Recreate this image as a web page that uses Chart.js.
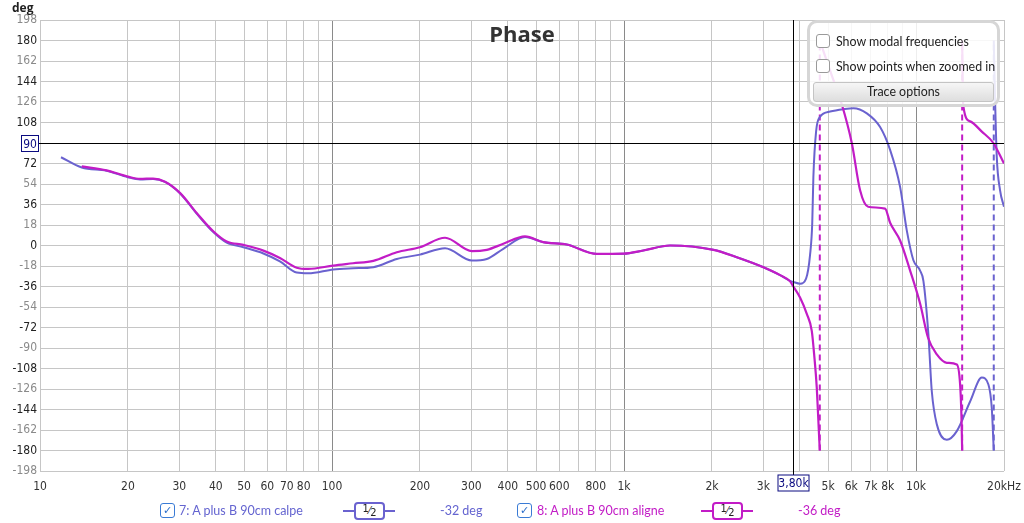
<!DOCTYPE html>
<html>
<head>
<meta charset="utf-8">
<title>Phase</title>
<script src="https://cdn.jsdelivr.net/npm/chart.js@4.4.1/dist/chart.umd.min.js"></script>
<style>
    html, body { margin: 0; padding: 0; background: #fff; }
    #wrap { position: relative; width: 1024px; height: 523px; overflow: hidden; }
    #phaseChart { position: absolute; left: 0; top: 0; }

    .opts {
        position: absolute; left: 807px; top: 20px; width: 187px; height: 81px;
        border: 3px solid #d6d6d6; border-radius: 10px;
        background: rgba(255, 255, 255, 0.86);
        font: 12.4px Lato, "Open Sans", sans-serif; color: #222;
    }
    .opts .cb {
        position: absolute; left: 6px; width: 12px; height: 12px;
        border: 1px solid #9a9a9a; border-radius: 3px; background: #fff;
    }
    .opts .lbl { position: absolute; left: 26px; line-height: 14px; white-space: nowrap; }
    .opts .btn {
        position: absolute; left: 3px; top: 59px; width: 179px; height: 18px;
        border: 1px solid #c4c4c4; border-radius: 3px;
        background: linear-gradient(#f6f6f6, #dedede);
        text-align: center; line-height: 18px;
    }

    .legend { position: absolute; top: 502px; height: 18px; font: 12.5px Lato, "Open Sans", sans-serif; white-space: nowrap; }
    .legend .tick {
        position: absolute; top: 1px; width: 13px; height: 13px;
        border: 1px solid #3a7bd5; border-radius: 3px; background: #fff;
        color: #2a6cc8; font: bold 11px "DejaVu Sans", sans-serif; line-height: 13px; text-align: center;
    }
    .legend .name, .legend .val { position: absolute; top: 0; line-height: 17px; }
    .legend .sym { position: absolute; top: 0; width: 52px; height: 18px; }
    .legend .sym .ln { position: absolute; left: 0; top: 8px; width: 52px; height: 2px; }
    .legend .sym .bx {
        position: absolute; left: 11px; top: 0; width: 27px; height: 14px;
        border: 2px solid; border-radius: 4px; background: #fff;
        color: #222; font: 11px "Liberation Sans Narrow", "DejaVu Sans Condensed", sans-serif;
        text-align: center; line-height: 14px;
    }
    .bx .n1 { position: relative; top: -2px; }
    .bx .n2 { position: relative; top: 2px; }
</style>
</head>
<body>
<div id="wrap">
    <canvas id="phaseChart" width="1024" height="523"></canvas>

    <div class="opts">
        <div class="cb" style="top:11px"></div>
        <div class="lbl" style="top:12px">Show modal frequencies</div>
        <div class="cb" style="top:36px"></div>
        <div class="lbl" style="top:37px">Show points when zoomed in</div>
        <div class="btn">Trace options</div>
    </div>

    <div class="legend" style="left:0; width:1024px">
        <div class="tick" style="left:160px">&#10003;</div>
        <div class="name" style="left:179px; color:#6464d0">7: A plus B 90cm calpe</div>
        <div class="sym" style="left:343px">
            <div class="ln" style="background:#6a62cf"></div>
            <div class="bx" style="border-color:#6a62cf"><span class="n1">1</span>&#8260;<span class="n2">2</span></div>
        </div>
        <div class="val" style="left:440px; color:#6464d0">-32 deg</div>

        <div class="tick" style="left:517px">&#10003;</div>
        <div class="name" style="left:537px; color:#c21cc6">8: A plus B 90cm aligne</div>
        <div class="sym" style="left:701px">
            <div class="ln" style="background:#c21cc6"></div>
            <div class="bx" style="border-color:#c21cc6"><span class="n1">1</span>&#8260;<span class="n2">2</span></div>
        </div>
        <div class="val" style="left:798px; color:#c21cc6">-36 deg</div>
    </div>
</div>

<script>
// trace 7 (blue), segment before the phase wrap, then after it
const blueFreq1 = [11.8, 13.9, 16.9, 20, 22, 24.4, 26.8, 30.2, 34.4, 39.2, 43.6, 49.7, 58.2, 66.3, 75.7, 82.9,
    101, 118, 138.5, 166.6, 200, 243.8, 300.9, 338.8, 386, 458, 529, 636, 806, 995, 1164, 1437, 2022, 2432,
    3000, 3421, 3703, 3800, 4005, 4200, 4335, 4410, 4449, 4545, 4690, 5077, 5636, 6100, 6782, 7530, 8147,
    8815, 9295, 9790, 10320, 10593, 11018, 11318, 11775, 12740, 13785, 15310, 16790, 17686, 18165, 18450];
const bluePhase1 = [77.5, 68.5, 65.6, 60, 58, 58.5, 55.8, 45.6, 28, 11.8, 2.5, -1.5, -7, -14, -23.8, -24.4,
    -21, -20, -19, -11.8, -8, -2.4, -13.2, -11.8, -2.9, 7.4, 2.9, 0.9, -7.4, -7.2, -4.4, 0, -3.8, -10.3,
    -19.1, -26, -31, -32, -33.5, -29, -8, 20, 60, 100, 113, 117.6, 119.7, 120.6, 116, 104, 84,
    51.5, 13, -13, -22, -31, -78, -128, -157, -170.6, -163, -137, -116, -122, -143, -180];
const blueFreq2 = [18450, 18640, 18890, 19390, 20000];
const bluePhase2 = [180, 128, 78, 48.5, 34];

// trace 8 (magenta), three segments split by two wraps
const magFreq1 = [13.9, 16.9, 20, 22, 24.4, 26.8, 30.2, 34.4, 39.2, 43.6, 49.7, 58.2, 66.3, 75.7, 82.9,
    101, 118, 138.5, 166.6, 200, 243.8, 300.9, 338.8, 386, 458, 529, 636, 806, 995, 1164, 1437, 2022, 2432,
    3000, 3421, 3703, 3800, 4005, 4224, 4393, 4474, 4570, 4628, 4680];
const magPhase1 = [69.5, 66, 60.5, 58.5, 58.8, 56, 46, 28.5, 12.5, 3.5, 0.5, -4.5, -11, -19.5, -20.6,
    -17.6, -15.6, -13.5, -5.9, -1.5, 6.8, -5, -3.8, 1.5, 8, 2.9, 0.9, -7.4, -7.2, -4.4, 0, -3.8, -10.3,
    -19.1, -26, -31.5, -36, -45.6, -60, -75, -95, -125, -154, -180];
const magFreq2 = [4680, 5100, 5566, 6023, 6430, 6850, 7831, 8147, 8815, 9539, 10320, 10990, 11775, 12740,
    13785, 14150, 14300, 14380];
const magPhase2 = [180, 152, 124, 90, 48.5, 34, 32.4, 20, 4.4, -22, -51, -81, -95.6, -103,
    -104.5, -122, -150, -180];
const magFreq3 = [14380, 14500, 15310, 16790, 18390, 20000];
const magPhase3 = [180, 123, 109, 100, 90, 72];

// frequencies where each trace wraps from -180 to +180
const blueWraps = [18450];
const magWraps = [4680, 14380];

// axis ticks
const xTickValues = [10, 20, 30, 40, 50, 60, 70, 80, 90, 100, 200, 300, 400, 500, 600, 700, 800, 900,
    1000, 2000, 3000, 4000, 5000, 6000, 7000, 8000, 9000, 10000, 20000];
const xTickLabels = ['10', '20', '30', '40', '50', '60', '70', '80', '', '100', '200', '300', '400', '500', '600', '', '800', '',
    '1k', '2k', '3k', '', '5k', '6k', '7k', '8k', '', '10k', '20kHz'];
const yLabelValues = [198, 180, 162, 144, 126, 108, 72, 54, 36, 18, 0, -18, -36, -54, -72, -90,
    -108, -126, -144, -162, -180, -198];

// cursor position
const cursorFreq = 3800;
const cursorPhase = 90;
const cursorFreqLabel = '3,80k';
const cursorPhaseLabel = '90';

const BLUE = '#6a62cf';
const MAGENTA = '#c21cc6';
const AXIS_FONT = '"Liberation Sans Narrow", "DejaVu Sans Condensed", "Arial Narrow", sans-serif';

const pts = (freqs, phases) => freqs.map((f, i) => ({ x: f, y: phases[i] }));

function traceSet(freqs, phases, color, width, order) {
    return {
        data: pts(freqs, phases),
        borderColor: color,
        borderWidth: width,
        cubicInterpolationMode: 'monotone',
        pointRadius: 0,
        fill: false,
        order: order
    };
}

function wrapSet(f, color) {
    return {
        data: [{ x: f, y: -180 }, { x: f, y: 180 }],
        borderColor: color,
        borderWidth: 2,
        borderDash: [6, 4],
        pointRadius: 0,
        fill: false,
        order: 2
    };
}

const datasets = [
    traceSet(magFreq1, magPhase1, MAGENTA, 2.2, 0),
    traceSet(magFreq2, magPhase2, MAGENTA, 2.2, 0),
    traceSet(magFreq3, magPhase3, MAGENTA, 2.2, 0),
    traceSet(blueFreq1, bluePhase1, BLUE, 2, 1),
    traceSet(blueFreq2, bluePhase2, BLUE, 2, 1)
];
magWraps.forEach(f => datasets.push(wrapSet(f, MAGENTA)));
blueWraps.forEach(f => datasets.push(wrapSet(f, BLUE)));

// title, unit label and the cursor cross with its boxed readouts
const decorPlugin = {
    id: 'decor',
    afterDatasetsDraw(chart) {
        const c = chart.ctx;
        const a = chart.chartArea;
        const xs = chart.scales.x, ys = chart.scales.y;
        const cx = Math.round(xs.getPixelForValue(cursorFreq)) + 0.5;
        const cy = Math.round(ys.getPixelForValue(cursorPhase)) + 0.5;

        c.save();
        c.fillStyle = '#333';
        c.font = 'bold 22px "Open Sans", "DejaVu Sans", sans-serif';
        c.textAlign = 'center';
        c.textBaseline = 'middle';
        c.fillText('Phase', (a.left + a.right) / 2, 36);

        c.font = 'bold 12px "Open Sans", "DejaVu Sans", sans-serif';
        c.textAlign = 'left';
        c.fillStyle = '#222';
        c.fillText('deg', 12, 9);

        c.strokeStyle = '#000';
        c.lineWidth = 1;
        c.beginPath();
        c.moveTo(cx, a.top);
        c.lineTo(cx, a.bottom + 4);
        c.moveTo(38, cy);
        c.lineTo(a.right, cy);
        c.stroke();

        c.font = '12px ' + AXIS_FONT;
        c.textAlign = 'center';
        c.strokeStyle = '#0a0a80';
        c.fillStyle = '#fff';
        c.fillRect(21.5, cy - 8, 17, 16);
        c.strokeRect(21.5, cy - 8, 17, 16);
        const bw = 31;
        c.fillRect(cx - bw / 2, a.bottom + 4, bw, 16);
        c.strokeRect(cx - bw / 2, a.bottom + 4, bw, 16);
        c.fillStyle = '#0a0a80';
        c.fillText(cursorPhaseLabel, 30, cy + 1);
        c.fillText(cursorFreqLabel, cx, a.bottom + 13);
        c.restore();
    }
};

new Chart(document.getElementById('phaseChart').getContext('2d'), {
    type: 'line',
    data: { datasets: datasets },
    options: {
        responsive: false,
        animation: false,
        events: [],
        layout: { padding: { left: 0, right: 20, top: 20, bottom: 0 } },
        plugins: { legend: { display: false }, tooltip: { enabled: false } },
        scales: {
            x: {
                type: 'logarithmic',
                min: 10,
                max: 20000,
                afterBuildTicks: s => { s.ticks = xTickValues.map(v => ({ value: v })); },
                afterFit: s => { s.height = 52; s.paddingLeft = 0; s.paddingRight = 0; },
                border: { display: false },
                grid: {
                    drawTicks: false,
                    color: ctx => {
                        const v = ctx.tick ? ctx.tick.value : 0;
                        if (v === 100 || v === 1000 || v === 10000) return '#8a8a8a';
                        return '#c6c6c6';
                    }
                },
                ticks: {
                    autoSkip: false,
                    maxRotation: 0,
                    minRotation: 0,
                    padding: 9,
                    color: '#333',
                    font: { family: AXIS_FONT, size: 12 },
                    callback: (v, i) => xTickLabels[i]
                }
            },
            y: {
                type: 'linear',
                min: -198,
                max: 198,
                afterBuildTicks: s => {
                    const t = [];
                    for (let v = -198; v <= 198; v += 6) t.push({ value: v });
                    s.ticks = t;
                },
                afterFit: s => { s.width = 40; s.paddingTop = 0; s.paddingBottom = 0; },
                border: { display: false },
                grid: {
                    drawTicks: false,
                    color: ctx => {
                        const v = ctx.tick ? ctx.tick.value : 0;
                        return v % 18 === 0 ? '#c6c6c6' : '#e3e3e3';
                    }
                },
                ticks: {
                    padding: 3,
                    font: { family: AXIS_FONT, size: 12 },
                    color: ctx => (Math.abs(ctx.tick.value) % 36 === 0 ? '#222' : '#8a8a8a'),
                    callback: v => (yLabelValues.includes(v) ? String(v) : '')
                }
            }
        }
    },
    plugins: [decorPlugin]
});
</script>
</body>
</html>
